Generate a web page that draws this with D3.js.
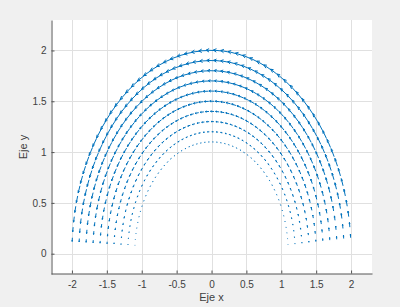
<!DOCTYPE html>
<html>
<head>
<meta charset="utf-8">
<script src="https://cdn.jsdelivr.net/npm/d3@7"></script>
<style>
  html, body { margin: 0; padding: 0; background: #f0f0f0; }
  svg { display: block; }
  text { font-family: "Liberation Sans", Arial, sans-serif; fill: #404040; }
</style>
</head>
<body>
<script>
// tick values
var xTicks = [-2, -1.5, -1, -0.5, 0, 0.5, 1, 1.5, 2];
var yTicks = [0, 0.5, 1, 1.5, 2];

// polar grid of the quiver points
var radii = [1.1, 1.2, 1.3, 1.4, 1.5, 1.6, 1.7, 1.8, 1.9, 2.0];
var ringSpeed = [0.1, 0.2, 0.3, 0.4, 0.5, 0.6, 0.7, 0.8, 0.9, 1.0];
var anglesDeg = [4.5, 7.5, 10.5, 13.5, 16.5, 19.5, 22.5, 25.5, 28.5, 31.5,
                 34.5, 37.5, 40.5, 43.5, 46.5, 49.5, 52.5, 55.5, 58.5, 61.5,
                 64.5, 67.5, 70.5, 73.5, 76.5, 79.5, 82.5, 85.5, 88.5, 91.5,
                 94.5, 97.5, 100.5, 103.5, 106.5, 109.5, 112.5, 115.5, 118.5, 121.5,
                 124.5, 127.5, 130.5, 133.5, 136.5, 139.5, 142.5, 145.5, 148.5, 151.5,
                 154.5, 157.5, 160.5, 163.5, 166.5, 169.5, 172.5, 175.5];

var width = 400, height = 307;
var plotLeft = 51, plotRight = 372, plotTop = 20, plotBottom = 274;

var x = d3.scaleLinear().domain([-2.3, 2.3]).range([plotLeft, plotRight]);
var y = d3.scaleLinear().domain([-0.2, 2.3]).range([plotBottom, plotTop]);

var svg = d3.select("body").append("svg")
  .attr("width", width)
  .attr("height", height);

svg.append("rect")
  .attr("x", plotLeft).attr("y", plotTop)
  .attr("width", plotRight - plotLeft).attr("height", plotBottom - plotTop)
  .attr("fill", "#fff");

/* grid */
var grid = svg.append("g").attr("stroke", "#e0e0e0").attr("stroke-width", 1);
grid.selectAll("line.gx").data(xTicks).enter().append("line")
  .attr("x1", function(d) { return Math.round(x(d)) + 0.5; })
  .attr("x2", function(d) { return Math.round(x(d)) + 0.5; })
  .attr("y1", plotTop).attr("y2", plotBottom);
grid.selectAll("line.gy").data(yTicks).enter().append("line")
  .attr("y1", function(d) { return Math.round(y(d)) + 0.5; })
  .attr("y2", function(d) { return Math.round(y(d)) + 0.5; })
  .attr("x1", plotLeft).attr("x2", plotRight);

/* quiver data: tangential field, counterclockwise */
var arrowScale = 0.13;
var alpha = 0.33, beta = 0.4;
var arrows = [];
radii.forEach(function(r, i) {
  anglesDeg.forEach(function(a) {
    var t = a * Math.PI / 180;
    var s = ringSpeed[i] * Math.sqrt(Math.sin(t)) * arrowScale;
    arrows.push({ x: r * Math.cos(t), y: r * Math.sin(t),
                  u: -s * Math.sin(t), v: s * Math.cos(t) });
  });
});

var q = svg.append("g")
  .attr("stroke", "#0072bd")
  .attr("stroke-width", 1)
  .attr("fill", "none");

q.selectAll("path").data(arrows).enter().append("path")
  .attr("d", function(d) {
    var tx = d.x + d.u, ty = d.y + d.v;
    var h1x = tx - alpha * (d.u + beta * d.v), h1y = ty - alpha * (d.v - beta * d.u);
    var h2x = tx - alpha * (d.u - beta * d.v), h2y = ty - alpha * (d.v + beta * d.u);
    return "M" + x(d.x) + "," + y(d.y) + "L" + x(tx) + "," + y(ty) +
           "M" + x(h1x) + "," + y(h1y) + "L" + x(tx) + "," + y(ty) +
           "L" + x(h2x) + "," + y(h2y);
  });

/* axes */
function fmt(d) { return String(d); }

var xAxis = svg.append("g")
  .attr("transform", "translate(0," + (plotBottom - 0.5) + ")")
  .call(d3.axisBottom(x).tickValues(xTicks).tickFormat(fmt)
    .tickSizeInner(-3).tickSizeOuter(0).tickPadding(7));
var yAxis = svg.append("g")
  .attr("transform", "translate(" + (plotLeft + 0.5) + ",0)")
  .call(d3.axisLeft(y).tickValues(yTicks).tickFormat(fmt)
    .tickSizeInner(-3).tickSizeOuter(0).tickPadding(5));

[xAxis, yAxis].forEach(function(g) {
  g.select(".domain").attr("stroke", "#555");
  g.selectAll(".tick line").attr("stroke", "#555");
  g.selectAll(".tick text").attr("fill", "#404040").style("font-size", "10px")
    .style("font-family", "'Liberation Sans', Arial, sans-serif");
});

svg.append("text")
  .attr("x", (plotLeft + plotRight) / 2).attr("y", 301)
  .attr("text-anchor", "middle")
  .style("font-size", "11px")
  .text("Eje x");

svg.append("text")
  .attr("transform", "translate(27," + ((plotTop + plotBottom) / 2) + ") rotate(-90)")
  .attr("text-anchor", "middle")
  .style("font-size", "11px")
  .text("Eje y");
</script>
</body>
</html>
